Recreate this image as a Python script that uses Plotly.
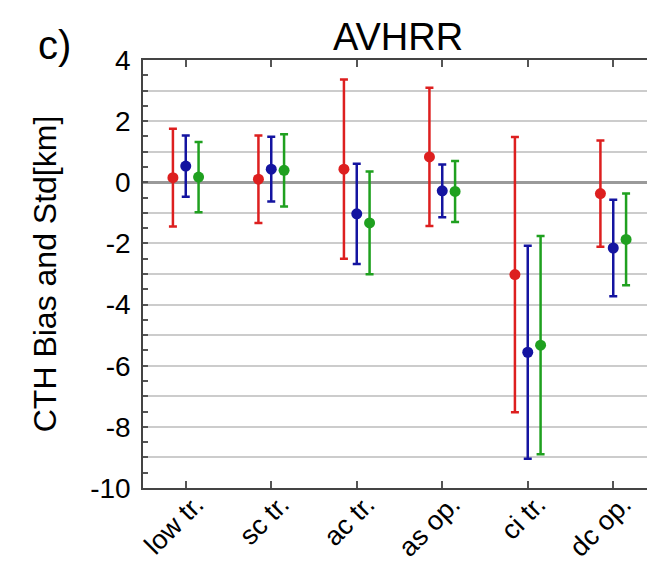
import plotly.graph_objects as go

categories = ["low tr.", "sc tr.", "ac tr.", "as op.", "ci tr.", "dc op."]
positions = [1, 2, 3, 4, 5, 6]

red_bias = [0.15, 0.10, 0.43, 0.83, -3.02, -0.37]
red_std = [1.60, 1.43, 2.93, 2.26, 4.50, 1.74]
blue_bias = [0.53, 0.43, -1.03, -0.28, -5.56, -2.15]
blue_std = [1.00, 1.06, 1.64, 0.86, 3.48, 1.58]
green_bias = [0.17, 0.39, -1.33, -0.30, -5.33, -1.87]
green_std = [1.15, 1.18, 1.68, 1.00, 3.57, 1.50]

ytick_vals = [-10, -9, -8, -7, -6, -5, -4, -3, -2, -1, 0, 1, 2, 3, 4]
ytick_text = ["-10", "", "-8", "", "-6", "", "-4", "", "-2", "", "0", "", "2", "", "4"]

series = [
    (red_bias, red_std, "#dd1f1f", -0.15),
    (blue_bias, blue_std, "#1414a0", 0.0),
    (green_bias, green_std, "#1fa01f", 0.15),
]

FONT = "Liberation Sans, Arial, Helvetica, sans-serif"

fig = go.Figure()
for bias, std, color, off in series:
    fig.add_trace(go.Scatter(
        x=[p + off for p in positions], y=bias, mode="markers",
        marker=dict(color=color, size=11),
        error_y=dict(type="data", array=std, color=color, thickness=2.5, width=4),
        showlegend=False, cliponaxis=False,
    ))

fig.update_layout(
    width=647, height=570,
    margin=dict(l=143, r=0, t=60, b=82),
    paper_bgcolor="white", plot_bgcolor="white",
    font=dict(family=FONT, color="black"),
    title=dict(text="AVHRR", xref="paper", x=0.506, xanchor="center",
               yref="container", y=0.935, yanchor="middle",
               font=dict(size=38, color="black")),
    annotations=[dict(text="c)", xref="paper", yref="paper", x=-0.175, y=1.035,
                      xanchor="center", yanchor="middle", showarrow=False,
                      font=dict(size=40, color="black"))],
)

fig.update_xaxes(
    range=[0.5, 0.5 + 504 / 85.5], automargin=False,
    tickvals=positions, ticktext=categories, tickangle=-45,
    ticks="inside", ticklen=7, tickcolor="#555", tickwidth=1.5,
    showline=True, linecolor="#444", linewidth=1.5, mirror="ticks",
    showgrid=False, zeroline=False,
    ticklabelshift=10, ticklabelstandoff=-12,
    tickfont=dict(size=27, color="black"),
)
fig.update_yaxes(
    range=[-10, 4], automargin=False,
    tickvals=ytick_vals, ticktext=ytick_text,
    ticks="inside", ticklen=5, tickcolor="#555", tickwidth=1.5,
    minor=dict(dtick=0.5, ticks="inside", ticklen=5, tickcolor="#555", showgrid=False),
    showline=True, linecolor="#444", linewidth=1.5,
    showgrid=True, gridcolor="#cccccc", gridwidth=2,
    zeroline=True, zerolinecolor="#9a9a9a", zerolinewidth=3,
    ticklabelstandoff=5,
    tickfont=dict(size=28, color="black"),
    title=dict(text="CTH Bias and Std[km]", font=dict(size=32, color="black"), standoff=24),
)

fig.write_html(
    "out.html",
    config={"displayModeBar": False},
    post_script="document.body.style.margin='0';document.body.style.overflow='hidden';",
)
